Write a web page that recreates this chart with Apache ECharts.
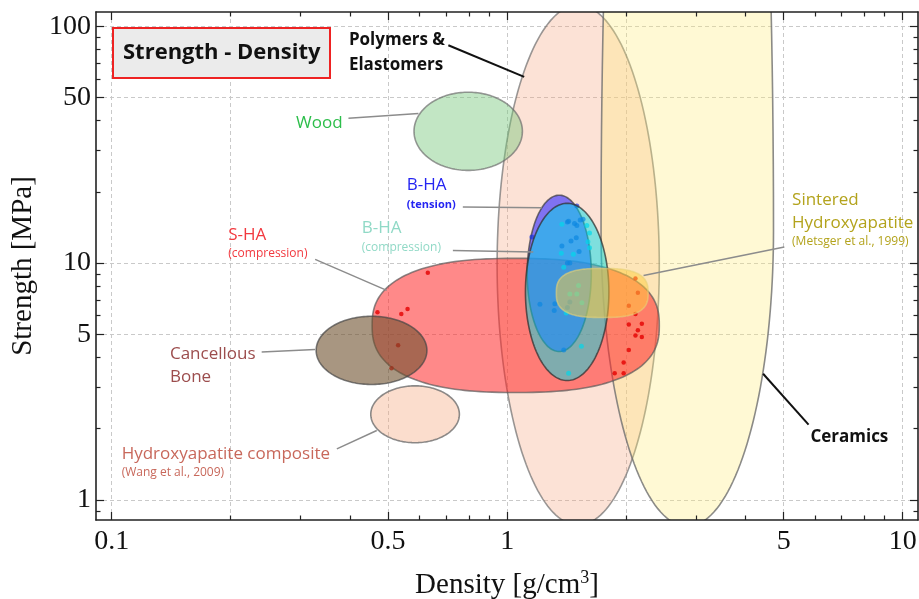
<!DOCTYPE html>
<html>
<head>
<meta charset="utf-8">
<script src="https://cdn.jsdelivr.net/npm/echarts@6/dist/echarts.min.js"></script>
<style>
  html, body { margin: 0; padding: 0; background: #fff; }
  #chart { width: 919px; height: 599px; }
</style>
</head>
<body>
<div id="chart"></div>
<script>
// axis ranges (g/cm3, MPa)
const densityMin = 0.0913
const densityMax = 10.93
const strengthMin = 0.823
const strengthMax = 114.8

// ticks
const densityLabels = [0.1, 0.5, 1, 5, 10]
const densityMinor = [0.2, 0.3, 0.4, 0.6, 0.7, 0.8, 0.9, 2, 3, 4, 6, 7, 8, 9]
const densityGrid = [0.1, 0.2, 0.5, 1, 2, 5, 10]
const strengthLabels = [1, 5, 10, 50, 100]
const strengthMinor = [0.9, 2, 3, 4, 6, 7, 8, 9, 20, 30, 40, 60, 70, 80, 90]
const strengthGrid = [1, 5, 10, 50, 100]

// material regions: centre [density, strength], half extents in decades
const regionNames = ['Polymers & Elastomers', 'Ceramics', 'Wood', 'Hydroxyapatite composite',
  'S-HA (compression)', 'Cancellous Bone', 'B-HA (tension)', 'B-HA (compression)', 'Sintered Hydroxyapatite']
const regionCenters = [[1.512, 9.81], [2.853, 13.74], [0.797, 36.0], [0.585, 2.30],
  [1.051, 5.455], [0.454, 4.28], [1.354, 9.05], [1.418, 7.555], [1.739, 7.48]]
const regionSpanX = [[0.205, 0.205], [0.218, 0.218], [0.137, 0.137], [0.112, 0.112],
  [0.363, 0.363], [0.140, 0.140], [0.081, 0.081], [0.1055, 0.1055], [0.116, 0.116]]
const regionSpanY = [[1.098, 1.098], [4.0, 1.25], [0.165, 0.165], [0.120, 0.120],
  [0.283, 0.283], [0.144, 0.144], [0.33, 0.33], [0.374, 0.374], [0.1035, 0.1035]]
const regionPower = [2, 2, 2, 2, 2.5, 2, 2, 2, 2.8]

// measured samples [density, strength]
const shaPoints = [[0.63, 9.1], [0.47, 6.2], [0.54, 6.1], [0.56, 6.4], [0.53, 4.5], [0.51, 3.6],
  [2.11, 8.6], [2.14, 7.5], [2.03, 6.6], [2.11, 6.1], [2.03, 5.5], [2.19, 5.55], [2.14, 5.2],
  [2.11, 4.95], [2.19, 4.87], [2.03, 4.3], [1.97, 3.8], [1.97, 3.43], [1.87, 3.43]]
const bhaTensionPoints = [[1.155, 12.9], [1.50, 17.4], [1.42, 14.9], [1.43, 15.0], [1.48, 14.7],
  [1.50, 14.4], [1.53, 15.2], [1.555, 15.3], [1.375, 11.8], [1.45, 12.4], [1.495, 12.8],
  [1.52, 11.2], [1.42, 10.0], [1.44, 10.0], [1.21, 6.7], [1.32, 6.74], [1.315, 6.3],
  [1.42, 6.5], [1.44, 6.85], [1.39, 4.3]]
const bhaCompressionPoints = [[1.375, 14.6], [1.59, 14.4], [1.615, 13.4], [1.60, 12.3],
  [1.615, 11.6], [1.37, 11.0], [1.47, 10.9], [1.39, 9.6], [1.515, 8.05], [1.50, 7.4],
  [1.44, 7.4], [1.545, 6.8], [1.41, 6.15], [1.54, 4.46], [1.43, 3.43]]

// annotations
const labelText = ['Polymers &', 'Elastomers', 'Wood', 'B-HA', '(tension)', 'B-HA', '(compression)',
  'S-HA', '(compression)', 'Sintered', 'Hydroxyapatite', '(Metsger et al., 1999)', 'Cancellous',
  'Bone', 'Hydroxyapatite composite', '(Wang et al., 2009)', 'Ceramics']
const labelAt = [[0.398, 86.9], [0.398, 68.8], [0.2925, 39.1], [0.5576, 21.3], [0.5576, 17.6],
  [0.4289, 14.0], [0.4289, 11.65], [0.1972, 13.1], [0.1972, 11.0], [5.251, 18.46], [5.251, 14.7],
  [5.251, 12.27], [0.1404, 4.115], [0.1404, 3.30], [0.106, 1.555], [0.106, 1.309], [5.842, 1.84]]
const labelKind = ['bold', 'bold', 'wood', 'tension', 'tensionSmall', 'comp', 'compSmall', 'sha',
  'shaSmall', 'sint', 'sint', 'sintSmall', 'bone', 'bone', 'hac', 'hacSmall', 'bold']
const leaderFrom = [[0.710, 83.1], [0.397, 40.9], [0.7725, 17.24], [0.729, 11.31], [0.327, 10.37],
  [5.02, 11.68], [0.2395, 4.21], [0.371, 1.644], [5.78, 2.08]]
const leaderTo = [[1.104, 61.1], [0.5965, 42.8], [1.224, 17.14], [1.164, 11.13], [0.496, 7.67],
  [2.212, 8.87], [0.3267, 4.32], [0.468, 1.965], [4.436, 3.41]]
const leaderDark = [true, false, false, false, false, false, false, false, true]

const SERIF = '"Liberation Serif", "DejaVu Serif", serif'
const SANS = '"Open Sans", "Noto Sans", sans-serif'

const regionFill = ['rgba(245,160,120,0.30)', 'rgba(255,235,120,0.32)', 'rgba(120,200,125,0.45)',
  'rgba(245,170,130,0.40)', 'rgba(255,40,40,0.55)', 'rgba(110,80,45,0.60)',
  'rgba(70,60,255,0.68)', 'rgba(0,220,230,0.50)', 'rgba(255,205,60,0.50)']
const regionStroke = ['rgba(110,110,110,0.7)', 'rgba(110,110,110,0.8)', 'rgba(110,110,110,0.7)',
  'rgba(110,110,110,0.8)', 'rgba(90,90,90,0.7)', 'rgba(70,70,70,0.7)',
  'rgba(60,60,60,0.7)', 'rgba(50,50,50,0.75)', 'rgba(230,210,120,0.6)']

const labelStyles = {
  bold: { fill: '#111', fontWeight: 'bold', fontSize: 17 },
  wood: { fill: '#2dbe4b', fontSize: 17 },
  tension: { fill: '#2424f2', fontSize: 17 },
  tensionSmall: { fill: '#2424f2', fontWeight: 'bold', fontSize: 11 },
  comp: { fill: '#90d9c6', fontSize: 17 },
  compSmall: { fill: '#90d9c6', fontSize: 12 },
  sha: { fill: '#f2383e', fontSize: 17 },
  shaSmall: { fill: '#f2383e', fontSize: 12 },
  sint: { fill: '#b3a31c', fontSize: 17 },
  sintSmall: { fill: '#b3a31c', fontSize: 12 },
  bone: { fill: '#9c4d4d', fontSize: 17 },
  hac: { fill: '#c8685b', fontSize: 17 },
  hacSmall: { fill: '#c8685b', fontSize: 12 }
}

const chart = echarts.init(document.getElementById('chart'), null, { renderer: 'canvas' })

function regionRenderer (idx) {
  return (params, api) => {
    const cx = Math.log10(api.value(0))
    const cy = Math.log10(api.value(1))
    const n = regionPower[idx]
    const points = []
    for (let k = 0; k < 180; k++) {
      const t = k / 180 * 2 * Math.PI
      const c = Math.cos(t)
      const s = Math.sin(t)
      const u = Math.sign(c) * Math.pow(Math.abs(c), 2 / n)
      const v = Math.sign(s) * Math.pow(Math.abs(s), 2 / n)
      const lx = cx + u * (u < 0 ? regionSpanX[idx][0] : regionSpanX[idx][1])
      const ly = cy + v * (v > 0 ? regionSpanY[idx][0] : regionSpanY[idx][1])
      points.push(api.coord([Math.pow(10, lx), Math.pow(10, ly)]))
    }
    const cs = params.coordSys
    return {
      type: 'polygon',
      shape: { points },
      style: { fill: regionFill[idx], stroke: regionStroke[idx], lineWidth: 1.6 },
      clipPath: { type: 'rect', shape: { x: cs.x, y: cs.y, width: cs.width, height: cs.height } }
    }
  }
}

function regionSeries (idx, z) {
  return {
    type: 'custom',
    name: regionNames[idx],
    z,
    silent: true,
    renderItem: regionRenderer(idx),
    data: [regionCenters[idx]]
  }
}

function dotSeries (name, points, color, size, z) {
  return {
    type: 'scatter',
    name,
    z,
    silent: true,
    symbolSize: size,
    itemStyle: { color },
    data: points
  }
}

const logX = (extra) => Object.assign({
  type: 'log', min: densityMin, max: densityMax, logBase: 10,
  axisLine: { show: false, onZero: false },
  axisTick: { show: false },
  axisLabel: { show: false },
  splitLine: { show: false },
  z: 10
}, extra)
const logY = (extra) => Object.assign({
  type: 'log', min: strengthMin, max: strengthMax, logBase: 10,
  axisLine: { show: false, onZero: false },
  axisTick: { show: false },
  axisLabel: { show: false },
  splitLine: { show: false },
  z: 10
}, extra)

const frameLine = { show: true, onZero: false, lineStyle: { color: '#222', width: 1.6 } }
const majorTick = (values) => ({ show: true, inside: true, length: 8, customValues: values, lineStyle: { color: '#222', width: 1.2 } })
const minorTick = (values) => ({ show: true, inside: true, length: 4.5, customValues: values, lineStyle: { color: '#222', width: 1.2 } })
const gridLine = { show: true, lineStyle: { color: '#c9c9c9', width: 1, type: [4, 3] } }

const series = [
  regionSeries(0, 2),
  regionSeries(1, 3),
  regionSeries(2, 4),
  regionSeries(3, 5),
  regionSeries(4, 6),
  dotSeries('S-HA samples', shaPoints, '#e40000', 4.5, 7),
  regionSeries(5, 8),
  regionSeries(6, 9),
  dotSeries('B-HA tension samples', bhaTensionPoints, 'rgba(20,50,220,0.85)', 5, 10),
  regionSeries(7, 11),
  dotSeries('B-HA compression samples', bhaCompressionPoints, 'rgba(0,215,235,0.85)', 5, 12),
  regionSeries(8, 13),
  {
    type: 'custom',
    name: 'leaders',
    z: 20,
    silent: true,
    renderItem: (params, api) => {
      const a = api.coord([api.value(0), api.value(1)])
      const b = api.coord([api.value(2), api.value(3)])
      const dark = leaderDark[params.dataIndex]
      return {
        type: 'line',
        shape: { x1: a[0], y1: a[1], x2: b[0], y2: b[1] },
        style: { stroke: dark ? '#111' : '#8c8c8c', lineWidth: dark ? 2 : 1.5 }
      }
    },
    data: leaderFrom.map((p, i) => [p[0], p[1], leaderTo[i][0], leaderTo[i][1]])
  },
  {
    type: 'custom',
    name: 'labels',
    z: 21,
    silent: true,
    renderItem: (params, api) => {
      const p = api.coord([api.value(0), api.value(1)])
      const st = labelStyles[labelKind[params.dataIndex]]
      return {
        type: 'text',
        x: p[0],
        y: p[1],
        style: Object.assign({
          text: labelText[params.dataIndex],
          fontFamily: SANS,
          align: 'left',
          verticalAlign: 'middle'
        }, st)
      }
    },
    data: labelAt
  }
]

chart.setOption({
  animation: false,
  backgroundColor: '#fff',
  title: {
    text: 'Strength - Density',
    left: 113,
    top: 28,
    padding: [12, 10],
    backgroundColor: '#ebebeb',
    borderColor: '#ee2222',
    borderWidth: 2,
    textStyle: { fontFamily: SANS, fontWeight: 'bold', fontSize: 22, lineHeight: 26, color: '#111' }
  },
  grid: { left: 96, top: 12, right: 1, bottom: 79, containLabel: false, outerBoundsMode: 'none' },
  xAxis: [
    logX({
      position: 'bottom',
      axisLine: frameLine,
      axisTick: majorTick(densityLabels),
      axisLabel: { show: true, customValues: densityLabels, margin: 8, fontFamily: SERIF, fontSize: 28, color: '#111' },
      name: 'Density [g/cm{sup|3}]',
      nameLocation: 'middle',
      nameGap: 49,
      nameTextStyle: {
        fontFamily: SERIF,
        fontSize: 29,
        color: '#111',
        rich: { sup: { fontFamily: SERIF, fontSize: 18, color: '#111', verticalAlign: 'top', padding: [0, 0, 14, 0] } }
      }
    }),
    logX({ position: 'bottom', axisTick: minorTick(densityMinor) }),
    logX({ position: 'top', axisLine: frameLine, axisTick: majorTick(densityLabels) }),
    logX({ position: 'top', axisTick: minorTick(densityMinor) }),
    logX({ position: 'bottom', axisTick: { show: false, customValues: densityGrid }, splitLine: gridLine, z: 0 })
  ],
  yAxis: [
    logY({
      position: 'left',
      axisLine: frameLine,
      axisTick: majorTick(strengthLabels),
      axisLabel: { show: true, customValues: strengthLabels, margin: 5, fontFamily: SERIF, fontSize: 28, color: '#111' },
      name: 'Strength [MPa]',
      nameLocation: 'middle',
      nameGap: 58,
      nameTextStyle: { fontFamily: SERIF, fontSize: 29, color: '#111' }
    }),
    logY({ position: 'left', axisTick: minorTick(strengthMinor) }),
    logY({ position: 'right', axisLine: frameLine, axisTick: majorTick(strengthLabels) }),
    logY({ position: 'right', axisTick: minorTick(strengthMinor) }),
    logY({ position: 'left', axisTick: { show: false, customValues: strengthGrid }, splitLine: gridLine, z: 0 })
  ],
  series
})
</script>
</body>
</html>
